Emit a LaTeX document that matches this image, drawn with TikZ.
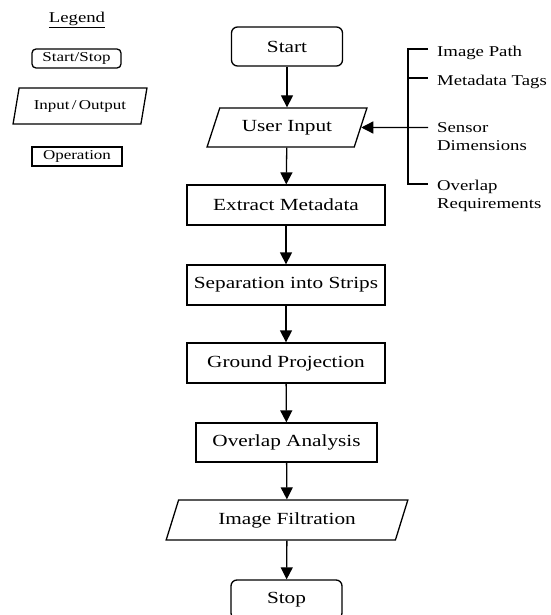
\documentclass[tikz,border=0pt]{standalone}
\usepackage{fontspec}
\setmainfont{Liberation Serif}[FakeStretch=1.25]
\usetikzlibrary{shapes.geometric,arrows.meta}
\tikzset{
  shp/.style={draw, line width=1.3pt, inner sep=0pt, align=center},
  mainfont/.style={font=\fontsize{17}{20}\selectfont},
  legfont/.style={font=\fontsize{13.6}{16}\selectfont},
  labfont/.style={font=\fontsize{15}{18}\selectfont},
  proc/.style={shp, mainfont, rectangle, minimum height=40pt},
  term/.style={shp, mainfont, rectangle, rounded corners=6pt, minimum width=111pt, minimum height=39pt},
  iobox/.style={shp, trapezium, trapezium stretches=true},
  flow/.style={line width=1.3pt, -{Triangle[length=12pt,width=12pt]}},
  brk/.style={line width=1.3pt},
  lab/.style={labfont, anchor=north west, inner sep=0pt, align=left}
}
\begin{document}
\begin{tikzpicture}[x=1pt,y=-1pt]
\useasboundingbox (0,0) rectangle (550,615);
\clip (0,0) rectangle (550,615);
% legend
\node[inner sep=0pt, font=\fontsize{15}{18}\selectfont] (lt) at (77,20) {\underline{Legend}};
\node[shp, legfont, rectangle, rounded corners=4pt, minimum width=89pt, minimum height=19pt] (lss) at (76.5,58.5) {Start/Stop};
\node[iobox, legfont, minimum width=134pt, minimum height=36pt, trapezium left angle=69, trapezium right angle=111] (lio) at (80,106) {Input\,/\,Output};
\node[shp, legfont, rectangle, minimum width=90pt, minimum height=19pt] (lop) at (77,156.5) {Operation};
% flow
\node[term] (start) at (287,46.5) {Start};
\node[iobox, mainfont, minimum width=160pt, minimum height=39pt, trapezium left angle=60, trapezium right angle=120] (ui) at (287,127.5) {User Input};
\node[proc, minimum width=198pt] (em) at (286,205) {Extract Metadata};
\node[proc, minimum width=198pt] (sep) at (286,285) {Separation into Strips};
\node[proc, minimum width=198pt] (gp) at (286,363) {Ground Projection};
\node[proc, minimum width=181pt, minimum height=39pt] (oa) at (286.5,442.5) {Overlap Analysis};
\node[iobox, mainfont, minimum width=242pt, minimum height=40pt, trapezium left angle=63, trapezium right angle=117] (if) at (287,520) {Image Filtration};
\node[term] (stop) at (286.5,599.5) {Stop};
\draw[flow] (start) -- (ui);
\draw[flow] (ui) -- (em);
\draw[flow] (em) -- (sep);
\draw[flow] (sep) -- (gp);
\draw[flow] (gp) -- (oa);
\draw[flow] (oa) -- (if);
\draw[flow] (if) -- (stop);
% bracket
\coordinate (b1) at (408,49);
\coordinate (b2) at (408,78);
\coordinate (b3) at (408,127.5);
\coordinate (b4) at (408,184);
\coordinate (t1) at (428,49);
\coordinate (t2) at (428,78);
\coordinate (t3) at (428,127.5);
\coordinate (t4) at (428,184);
\draw[brk] (t1) -- (b1) -- (b4) -- (t4);
\draw[brk] (b2) -- (t2);
\draw[flow] (t3) -- (ui.east);
\node[lab] (l1) at (437,46) {Image Path};
\node[lab] (l2) at (437,74.5) {Metadata Tags};
\node[lab] (l3) at (437,122.5) {Sensor\\Dimensions};
\node[lab] (l4) at (437,180) {Overlap\\Requirements};
\end{tikzpicture}
\end{document}
